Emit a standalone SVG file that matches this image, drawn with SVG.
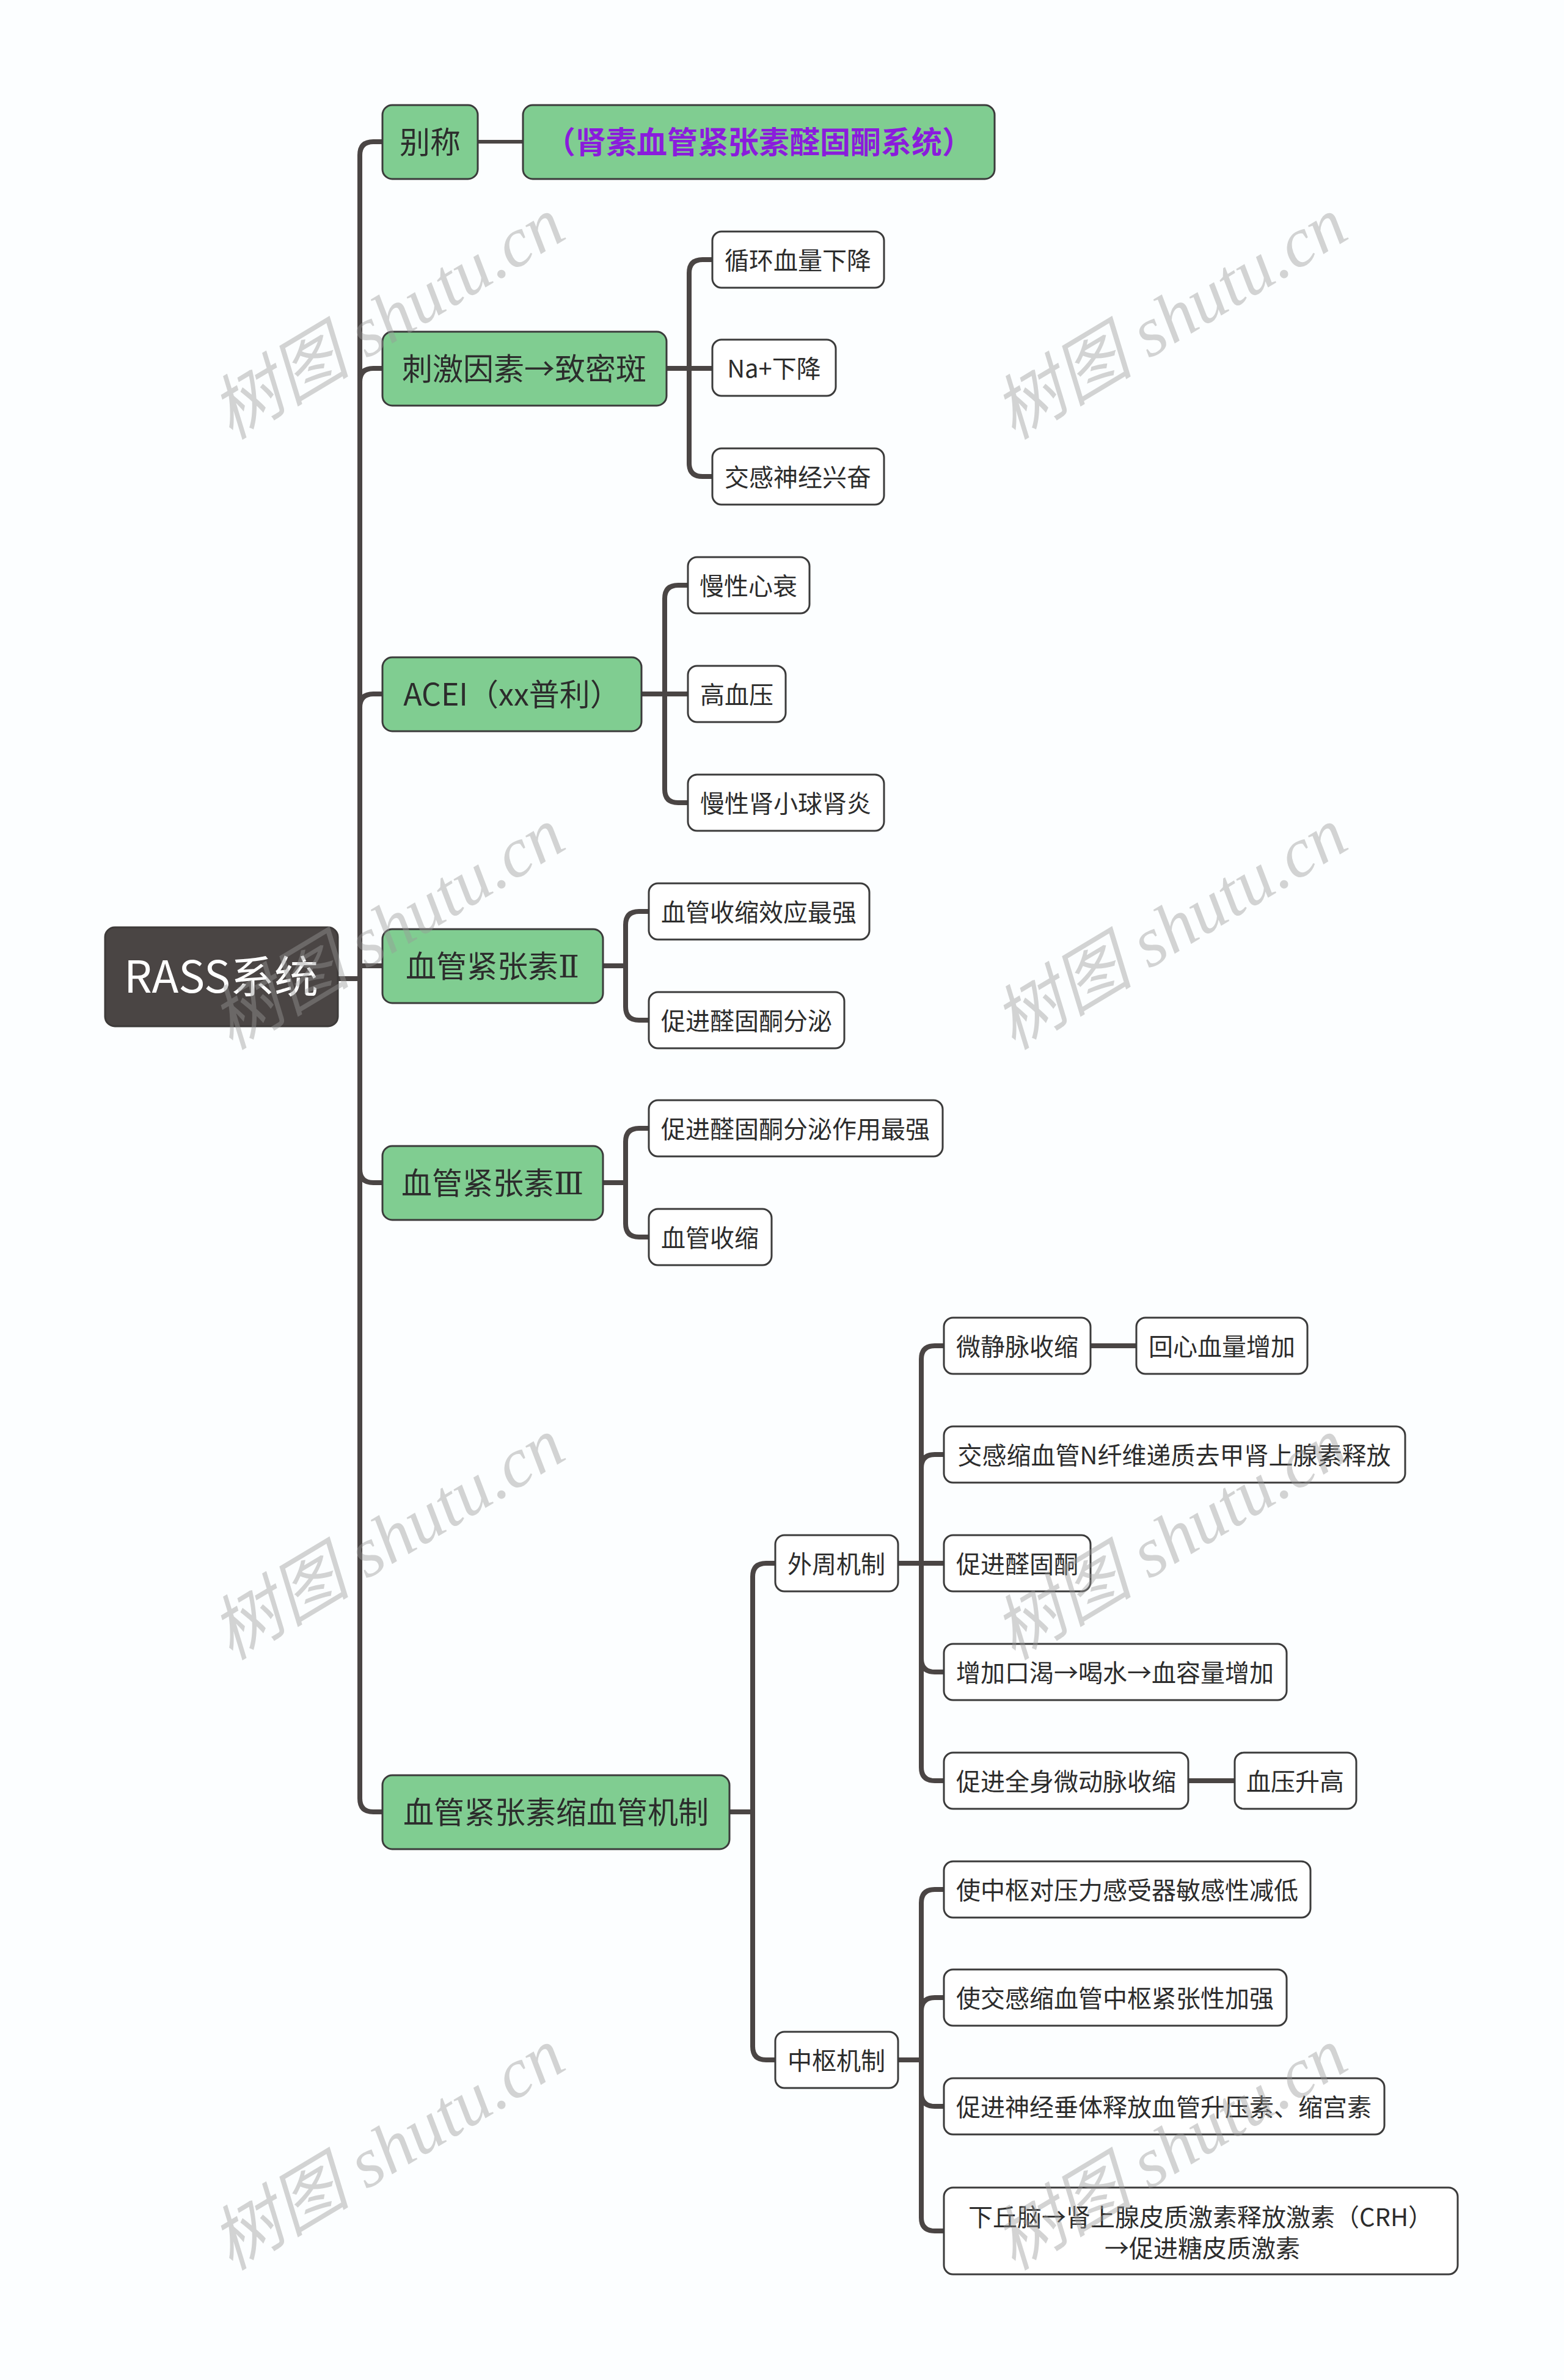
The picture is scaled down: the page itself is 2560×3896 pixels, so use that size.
<svg xmlns="http://www.w3.org/2000/svg" width="2560" height="3896" viewBox="0 0 2560 3896">
<style>
.bg{fill:#fcfeff}
.c{fill:none;stroke:#4a4544;stroke-width:8;stroke-linejoin:round}
.cthin{fill:none;stroke:#4a4544;stroke-width:6}
.root rect{fill:#4a4544;stroke:#3d3a39;stroke-width:3}
.l1 rect{fill:#80cd91;stroke:#3b3b3b;stroke-width:3}
.l2 rect{fill:#ffffff;stroke:#3b3b3b;stroke-width:3}
text{font-family:"Noto Sans CJK SC","Noto Sans",sans-serif;text-anchor:middle}
.root text{fill:#ffffff;font-size:72px}
.l1 text{fill:#2c2c2c;font-size:50px}
.l2 text{fill:#2c2c2c;font-size:40px}
.alias text{fill:#8a1cdc;font-weight:bold}
.rn{font-family:"DejaVu Serif","Noto Sans CJK SC",serif}
.wm{font-family:"Liberation Serif","Noto Sans CJK SC",serif;font-style:italic;font-size:115px;fill:#999999;opacity:0.42}
</style>
<rect class="bg" x="0" y="0" width="2560" height="3896"/>

<g id="connectors">
<path class="c" d="M553,1602 H589"/>
<path class="c" d="M589,1602 V254 Q589,232 611,232 H626"/>
<path class="c" d="M589,1602 V625 Q589,603 611,603 H626"/>
<path class="c" d="M589,1602 V1158 Q589,1136 611,1136 H626"/>
<path class="c" d="M589,1581 H626"/>
<path class="c" d="M589,1602 V1914 Q589,1936 611,1936 H626"/>
<path class="c" d="M589,1602 V2944 Q589,2966 611,2966 H626"/>
<path class="cthin" d="M782,232 H856"/>

<path class="c" d="M1091,603 H1166"/>
<path class="c" d="M1128,603 V447 Q1128,425 1150,425 H1166"/>
<path class="c" d="M1128,603 V758 Q1128,780 1150,780 H1166"/>

<path class="c" d="M1050,1136 H1126"/>
<path class="c" d="M1088,1136 V980 Q1088,958 1110,958 H1126"/>
<path class="c" d="M1088,1136 V1292 Q1088,1314 1110,1314 H1126"/>

<path class="c" d="M987,1581 H1024"/>
<path class="c" d="M1024,1581 V1514 Q1024,1492 1046,1492 H1062"/>
<path class="c" d="M1024,1581 V1648 Q1024,1670 1046,1670 H1062"/>

<path class="c" d="M987,1936 H1024"/>
<path class="c" d="M1024,1936 V1869 Q1024,1847 1046,1847 H1062"/>
<path class="c" d="M1024,1936 V2003 Q1024,2025 1046,2025 H1062"/>

<path class="c" d="M1194,2966 H1232"/>
<path class="c" d="M1232,2966 V2581 Q1232,2559 1254,2559 H1269"/>
<path class="c" d="M1232,2966 V3350 Q1232,3372 1254,3372 H1269"/>

<path class="c" d="M1470,2559 H1545"/>
<path class="c" d="M1508,2559 V2225 Q1508,2203 1530,2203 H1545"/>
<path class="c" d="M1508,2559 V2403 Q1508,2381 1530,2381 H1545"/>
<path class="c" d="M1508,2559 V2715 Q1508,2737 1530,2737 H1545"/>
<path class="c" d="M1508,2559 V2893 Q1508,2915 1530,2915 H1545"/>

<path class="c" d="M1470,3372 H1508"/>
<path class="c" d="M1508,3372 V3115 Q1508,3093 1530,3093 H1545"/>
<path class="c" d="M1508,3372 V3292 Q1508,3270 1530,3270 H1545"/>
<path class="c" d="M1508,3372 V3426 Q1508,3448 1530,3448 H1545"/>
<path class="c" d="M1508,3372 V3630 Q1508,3652 1530,3652 H1545"/>

<path class="c" d="M1785,2203 H1860"/>
<path class="c" d="M1945,2915 H2021"/>
</g>

<g id="n-root" class="root"><rect x="172" y="1518" width="381" height="162" rx="16"/><text x="362" y="1625">RASS系统</text></g>

<g id="n-biecheng" class="l1"><rect x="626" y="172" width="156" height="121" rx="16"/><text x="704" y="251">别称</text></g>
<g id="n-alias" class="l1 alias"><rect x="856" y="172" width="772" height="121" rx="16"/><text x="1242" y="251">（肾素血管紧张素醛固酮系统）</text></g>
<g id="n-ciji" class="l1"><rect x="626" y="543" width="465" height="121" rx="16"/><text x="858" y="622">刺激因素→致密斑</text></g>
<g id="n-acei" class="l1"><rect x="626" y="1076" width="424" height="121" rx="16"/><text x="838" y="1155">ACEI（xx普利）</text></g>
<g id="n-ang2" class="l1"><rect x="626" y="1521" width="361" height="121" rx="16"/><text x="806" y="1600">血管紧张素<tspan class="rn">Ⅱ</tspan></text></g>
<g id="n-ang3" class="l1"><rect x="626" y="1876" width="361" height="121" rx="16"/><text x="806" y="1955">血管紧张素<tspan class="rn">Ⅲ</tspan></text></g>
<g id="n-mech" class="l1"><rect x="626" y="2906" width="568" height="121" rx="16"/><text x="910" y="2985">血管紧张素缩血管机制</text></g>

<g id="n-xunhuan" class="l2"><rect x="1166" y="379" width="281" height="92" rx="15"/><text x="1306" y="441">循环血量下降</text></g>
<g id="n-na" class="l2"><rect x="1166" y="556" width="202" height="92" rx="15"/><text x="1267" y="618">Na+下降</text></g>
<g id="n-jiaogan" class="l2"><rect x="1166" y="734" width="281" height="92" rx="15"/><text x="1306" y="796">交感神经兴奋</text></g>

<g id="n-xinshuai" class="l2"><rect x="1126" y="912" width="199" height="92" rx="15"/><text x="1225" y="974">慢性心衰</text></g>
<g id="n-gxy" class="l2"><rect x="1126" y="1090" width="160" height="92" rx="15"/><text x="1206" y="1152">高血压</text></g>
<g id="n-shenyan" class="l2"><rect x="1126" y="1268" width="321" height="92" rx="15"/><text x="1286" y="1330">慢性肾小球肾炎</text></g>

<g id="n-a2-1" class="l2"><rect x="1062" y="1446" width="361" height="92" rx="15"/><text x="1242" y="1508">血管收缩效应最强</text></g>
<g id="n-a2-2" class="l2"><rect x="1062" y="1624" width="320" height="92" rx="15"/><text x="1222" y="1686">促进醛固酮分泌</text></g>

<g id="n-a3-1" class="l2"><rect x="1062" y="1801" width="481" height="92" rx="15"/><text x="1302" y="1863">促进醛固酮分泌作用最强</text></g>
<g id="n-a3-2" class="l2"><rect x="1062" y="1979" width="201" height="92" rx="15"/><text x="1162" y="2041">血管收缩</text></g>

<g id="n-waizhou" class="l2"><rect x="1269" y="2513" width="201" height="92" rx="15"/><text x="1369" y="2575">外周机制</text></g>
<g id="n-zhongshu" class="l2"><rect x="1269" y="3326" width="201" height="92" rx="15"/><text x="1369" y="3388">中枢机制</text></g>

<g id="n-wj" class="l2"><rect x="1545" y="2157" width="240" height="92" rx="15"/><text x="1665" y="2219">微静脉收缩</text></g>
<g id="n-hx" class="l2"><rect x="1860" y="2157" width="280" height="92" rx="15"/><text x="2000" y="2219">回心血量增加</text></g>
<g id="n-jg" class="l2"><rect x="1545" y="2335" width="755" height="92" rx="15"/><text x="1922" y="2397">交感缩血管N纤维递质去甲肾上腺素释放</text></g>
<g id="n-cj" class="l2"><rect x="1545" y="2513" width="240" height="92" rx="15"/><text x="1665" y="2575">促进醛固酮</text></g>
<g id="n-kk" class="l2"><rect x="1545" y="2691" width="561" height="92" rx="15"/><text x="1825" y="2753">增加口渴→喝水→血容量增加</text></g>
<g id="n-qs" class="l2"><rect x="1545" y="2869" width="400" height="92" rx="15"/><text x="1745" y="2931">促进全身微动脉收缩</text></g>
<g id="n-xy" class="l2"><rect x="2021" y="2869" width="199" height="92" rx="15"/><text x="2120" y="2931">血压升高</text></g>

<g id="n-z1" class="l2"><rect x="1545" y="3047" width="600" height="92" rx="15"/><text x="1845" y="3109">使中枢对压力感受器敏感性减低</text></g>
<g id="n-z2" class="l2"><rect x="1545" y="3224" width="561" height="92" rx="15"/><text x="1825" y="3286">使交感缩血管中枢紧张性加强</text></g>
<g id="n-z3" class="l2"><rect x="1545" y="3402" width="721" height="92" rx="15"/><text x="1905" y="3464">促进神经垂体释放血管升压素、缩宫素</text></g>
<g id="n-z4" class="l2"><rect x="1545" y="3581" width="841" height="142" rx="15"/><text x="1965" y="3644">下丘脑→肾上腺皮质激素释放激素（CRH）</text><text x="1968" y="3695">→促进糖皮质激素</text></g>

<g id="watermarks">
<text class="wm" transform="translate(635,522) rotate(-31)" y="38">树图 shutu.cn</text>
<text class="wm" transform="translate(1916,522) rotate(-31)" y="38">树图 shutu.cn</text>
<text class="wm" transform="translate(635,1521) rotate(-31)" y="38">树图 shutu.cn</text>
<text class="wm" transform="translate(1916,1521) rotate(-31)" y="38">树图 shutu.cn</text>
<text class="wm" transform="translate(635,2520) rotate(-31)" y="38">树图 shutu.cn</text>
<text class="wm" transform="translate(1916,2520) rotate(-31)" y="38">树图 shutu.cn</text>
<text class="wm" transform="translate(635,3519) rotate(-31)" y="38">树图 shutu.cn</text>
<text class="wm" transform="translate(1916,3519) rotate(-31)" y="38">树图 shutu.cn</text>
</g>
</svg>
